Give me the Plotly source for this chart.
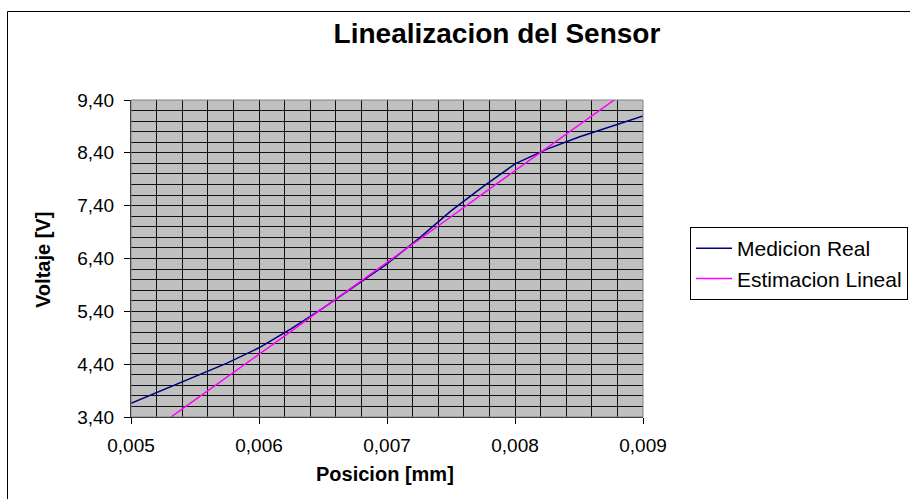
import plotly.graph_objects as go

# Sensor position (mm) and measured / linear-estimate voltages (V)
posicion_mm = [0.00500, 0.00525, 0.00550, 0.00575, 0.00600, 0.00625, 0.00650,
               0.00675, 0.00700, 0.00725, 0.00750, 0.00775, 0.00800, 0.00825,
               0.00850, 0.00875, 0.00900]
medicion_real = [3.66, 3.91, 4.16, 4.42, 4.71, 5.07, 5.46, 5.88, 6.30, 6.78,
                 7.30, 7.76, 8.19, 8.47, 8.70, 8.90, 9.10]
estimacion_lineal = [2.86, 3.29, 3.72, 4.16, 4.59, 5.02, 5.46, 5.89, 6.33,
                     6.76, 7.19, 7.63, 8.06, 8.49, 8.93, 9.36, 9.79]

titulo = "Linealizacion del Sensor"
titulo_x = "Posicion [mm]"
titulo_y = "Voltaje [V]"

FONT = "Liberation Sans, Arial, sans-serif"

fig = go.Figure()
fig.add_trace(go.Scatter(x=posicion_mm, y=medicion_real, mode="lines",
                         name="Medicion Real",
                         line=dict(color="#000080", width=1.5)))
fig.add_trace(go.Scatter(x=posicion_mm, y=estimacion_lineal, mode="lines",
                         name="Estimacion Lineal",
                         line=dict(color="#FF00FF", width=1.5)))

L, R, T, B = 131, 267, 100, 82
W, H = 910, 499
pw, ph = W - L - R, H - T - B


def px_x(p):
    return (p - L) / pw


def px_y(p):
    return (H - B - p) / ph


fig.update_layout(
    width=W, height=H,
    margin=dict(l=L, r=R, t=T, b=B, pad=0, autoexpand=False),
    paper_bgcolor="white",
    plot_bgcolor="#C0C0C0",
    separators=",.",
    font=dict(family=FONT, color="black", size=19),
    title=dict(text="<b>%s</b>" % titulo, font=dict(size=28, family=FONT),
               xref="paper", x=px_x(497), xanchor="center",
               yref="container", y=1 - 33 / H, yanchor="middle"),
    showlegend=True,
    legend=dict(x=px_x(908), y=px_y(227), xanchor="right", yanchor="top",
                bordercolor="black", borderwidth=1, bgcolor="white",
                font=dict(size=21, family=FONT), tracegroupgap=0,
                itemwidth=36),
    xaxis=dict(range=[0.005, 0.009], tick0=0.005, dtick=0.001,
               tickformat=".3f", showgrid=True, gridcolor="#111111",
               gridwidth=1, zeroline=False,
               minor=dict(dtick=0.0002, showgrid=True, gridcolor="#111111",
                          gridwidth=1),
               showline=True, linecolor="black", linewidth=1,
               ticks="outside", ticklen=6, tickcolor="black",
               ticklabelstandoff=5, tickfont=dict(size=19)),
    yaxis=dict(range=[3.4, 9.4], tick0=3.4, dtick=1.0,
               tickformat=".2f", showgrid=True, gridcolor="#111111",
               gridwidth=1, zeroline=False,
               minor=dict(dtick=0.2, showgrid=True, gridcolor="#111111",
                          gridwidth=1),
               showline=True, linecolor="black", linewidth=1,
               ticks="outside", ticklen=6, tickcolor="black",
               ticklabelstandoff=6, tickfont=dict(size=19)),
)

# Plot-area frame and outer chart frame
fig.add_shape(type="rect", xref="paper", yref="paper", x0=0, y0=0, x1=1, y1=1,
              line=dict(color="#808080", width=1), layer="above")
fig.add_shape(type="rect", xref="paper", yref="paper",
              x0=px_x(7.5), y0=px_y(520), x1=px_x(930), y1=px_y(11.5),
              line=dict(color="black", width=1), layer="below")

# Axis titles
fig.add_annotation(text="<b>%s</b>" % titulo_x, xref="paper", yref="paper",
                   x=px_x(385), y=px_y(474), showarrow=False,
                   xanchor="center", yanchor="middle",
                   font=dict(size=20, family=FONT))
fig.add_annotation(text="<b>%s</b>" % titulo_y, xref="paper", yref="paper",
                   x=px_x(43), y=px_y(260), showarrow=False, textangle=-90,
                   xanchor="center", yanchor="middle",
                   font=dict(size=20, family=FONT))

fig.write_html("out.html")
